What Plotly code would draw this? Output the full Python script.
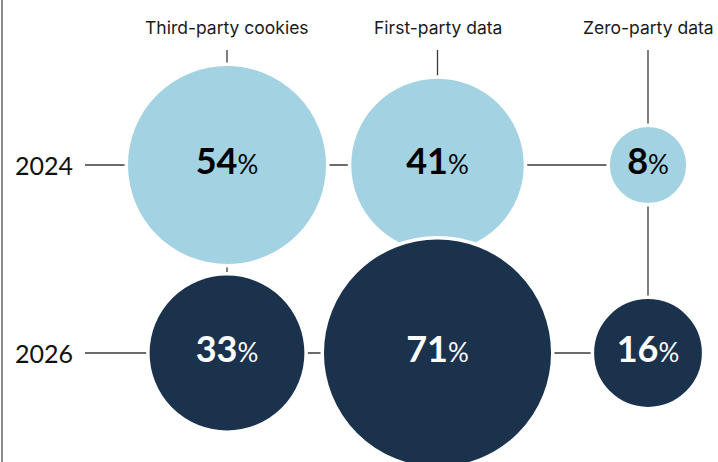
import plotly.graph_objects as go

# Survey shares by data source and year
sources = ["Third-party cookies", "First-party data", "Zero-party data"]
years = ["2024", "2026"]
values_2024 = [54, 41, 8]
values_2026 = [33, 71, 16]

W, H = 718, 462
LIGHT = "#A3D2E2"
NAVY = "#1B324D"
LINE = "#3a3a3a"
FONT = "Lato"
HEAD_FONT = "Inter"

# pixel layout of the grid
COL0, COL_STEP = 227, 210.5
ROW0, ROW_STEP = 165, 188
R_MAX_PX = 99          # radius of the 54% bubble
OUTLINE = 3.5          # white halo around each bubble


def to_x(px):
    return (px - COL0) / COL_STEP


def to_y(px):
    return (px - ROW0) / ROW_STEP


def diam(v):
    # bubble area proportional to the value
    return 2 * R_MAX_PX * (v / 54) ** 0.5 + OUTLINE


fig = go.Figure()

rows = [values_2024, values_2026]
fills = [LIGHT, NAVY]
txt_colors = ["#000000", "#ffffff"]
for r, vals in enumerate(rows):
    fig.add_trace(go.Scatter(
        x=list(range(len(sources))),
        y=[r] * len(sources),
        mode="markers+text",
        marker=dict(size=[diam(v) for v in vals], sizemode="diameter",
                    color=fills[r], opacity=1,
                    line=dict(color="white", width=OUTLINE)),
        text=[f"<b>{v}</b><span style='font-size:26px'>%</span>" for v in vals],
        textposition="middle center",
        textfont=dict(family=FONT, size=36, color=txt_colors[r]),
        cliponaxis=False,
        hoverinfo="skip",
        showlegend=False,
    ))

shapes = []
# horizontal guide lines per year
for r in range(len(years)):
    shapes.append(dict(type="line", layer="below", xref="x", yref="y",
                       x0=to_x(85), x1=len(sources) - 1, y0=r, y1=r,
                       line=dict(color=LINE, width=1.3)))
# vertical guide lines per source
for c in range(len(sources)):
    shapes.append(dict(type="line", layer="below", xref="x", yref="y",
                       x0=c, x1=c, y0=to_y(50), y1=len(years) - 1,
                       line=dict(color=LINE, width=1.3)))
# left frame line
shapes.append(dict(type="line", xref="paper", yref="paper",
                   x0=2 / W, x1=2 / W, y0=0, y1=1,
                   line=dict(color="#8a8a8a", width=2)))

annotations = []
for c, s in enumerate(sources):
    annotations.append(dict(x=c, y=to_y(27), xref="x", yref="y", text=s,
                            showarrow=False, xanchor="center", yanchor="middle",
                            font=dict(family=HEAD_FONT, size=17.5, color="#1a1a1a")))
for r, yr in enumerate(years):
    annotations.append(dict(x=to_x(75), y=r, xref="x", yref="y", text=yr,
                            showarrow=False, xanchor="right", yanchor="middle",
                            font=dict(family=FONT, size=25, color="#111111")))

fig.update_layout(
    width=W, height=H,
    margin=dict(l=0, r=0, t=0, b=0),
    paper_bgcolor="white", plot_bgcolor="white",
    xaxis=dict(range=[to_x(0), to_x(W)], visible=False, fixedrange=True),
    yaxis=dict(range=[to_y(H), to_y(0)], visible=False, fixedrange=True),
    shapes=shapes,
    annotations=annotations,
)

fig.write_html("out.html")
